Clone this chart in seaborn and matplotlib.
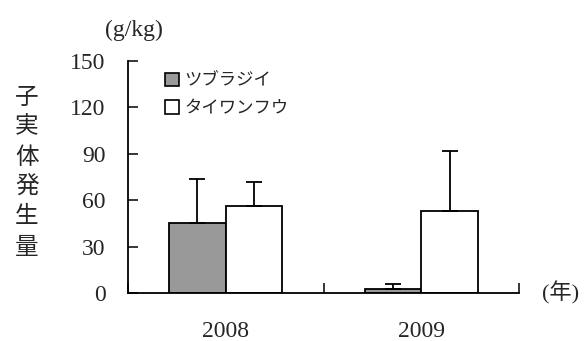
import matplotlib
matplotlib.use("Agg")
import matplotlib.pyplot as plt
import seaborn as sns
import pandas as pd
from matplotlib.patches import Patch
from matplotlib.ticker import FixedLocator

years = ["2008", "2009"]
species = ["ツブラジイ", "タイワンフウ"]
values = {"ツブラジイ": [45, 2.5], "タイワンフウ": [56, 53]}
errors = {"ツブラジイ": [29, 3.3], "タイワンフウ": [16, 38.5]}
colors = {"ツブラジイ": "#999999", "タイワンフウ": "#ffffff"}
yticks = [0, 30, 60, 90, 120, 150]

rows = []
for sp in species:
    for i, y in enumerate(years):
        rows.append({"year": y, "species": sp, "value": values[sp][i], "err": errors[sp][i]})
df = pd.DataFrame(rows)

sns.set_style("white")
jp = ["Noto Sans CJK JP", "DejaVu Sans"]
serif = ["Liberation Serif", "Noto Sans CJK JP"]
plt.rcParams["font.family"] = jp

fig = plt.figure(figsize=(5.88, 3.41), dpi=100)
ax = fig.add_axes([128/588, 1-293/341, (519-128)/588, (293-61)/341])

sns.barplot(data=df, x="year", y="value", hue="species", hue_order=species,
            palette=colors, width=0.58, gap=0, edgecolor="black", linewidth=1.3,
            errorbar=None, legend=False, ax=ax)

for cont, sp in zip(ax.containers, species):
    for bar, e in zip(cont, errors[sp]):
        xc = bar.get_x() + bar.get_width() / 2
        h = bar.get_height()
        ax.errorbar([xc], [h], yerr=[[0], [e]], fmt="none", ecolor="black",
                    elinewidth=1.3, capsize=6, capthick=1.3, zorder=1)

ax.set_xlim(-0.5, 1.5)
ax.set_ylim(0, 150)
ax.set_yticks(yticks)
ax.set_yticklabels([str(t) for t in yticks], family=serif, fontsize=17)
ax.set_xticks([0, 1])
ax.set_xticklabels(years, family=serif, fontsize=17)
ax.xaxis.set_minor_locator(FixedLocator([-0.5, 0.5, 1.5]))
ax.tick_params(axis="x", which="major", length=0, pad=20)
ax.tick_params(axis="x", which="minor", direction="in", length=7, width=1.3, bottom=True)
ax.tick_params(axis="y", direction="in", length=7, width=1.3, pad=16, left=True)
ax.set_xlabel("")
ax.set_ylabel("")
for s in ["top", "right"]:
    ax.spines[s].set_visible(False)
for s in ["left", "bottom"]:
    ax.spines[s].set_color("black")
    ax.spines[s].set_linewidth(1.3)

handles = [Patch(facecolor=colors[sp], edgecolor="black", linewidth=1.2, label=sp) for sp in species]
ax.legend(handles=handles, loc="upper left", bbox_to_anchor=(0.076, 0.985), frameon=False,
          fontsize=12.5, handlelength=0.8, handleheight=0.8, handletextpad=0.35,
          labelspacing=0.55, borderaxespad=0)

ylabel = "子実体発生量"
for i, ch in enumerate(ylabel):
    fig.text(27/588, 1 - (97 + 30*i)/341, ch, ha="center", va="center", fontsize=17, family=jp)

fig.text(134/588, 1 - 30/341, "(g/kg)", ha="center", va="center", fontsize=17, family=serif)
fig.text(561/588, 1 - 293/341, "(年)", ha="center", va="center", fontsize=16, family=serif)

fig.savefig("out.png", dpi=100)
